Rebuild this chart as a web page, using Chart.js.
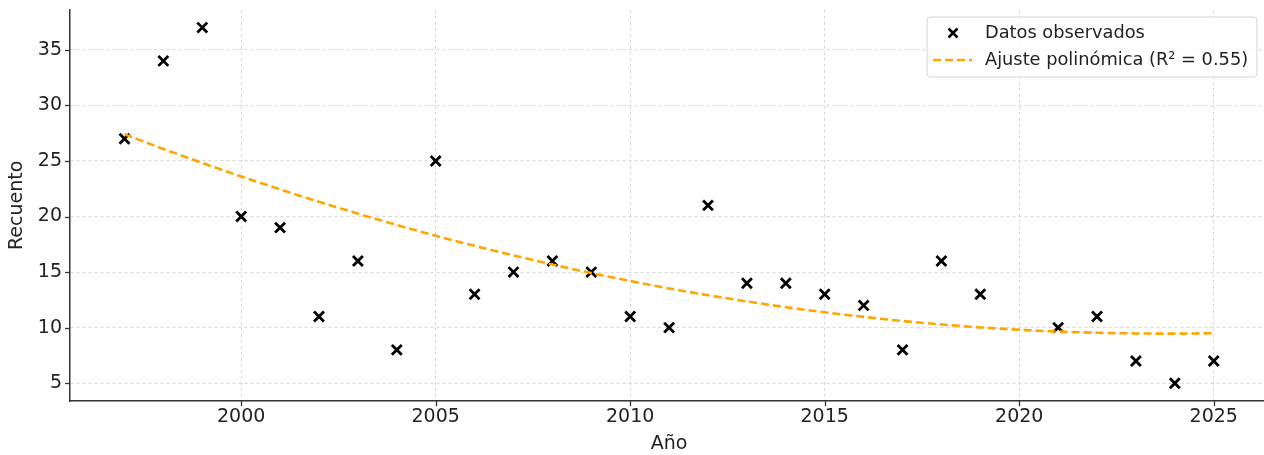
<!DOCTYPE html>
<html><head><meta charset="utf-8">
<script src="https://cdn.jsdelivr.net/npm/chart.js@4.4.1/dist/chart.umd.min.js"></script>
<style>html,body{margin:0;padding:0;overflow:hidden;background:#fff}#wrap{width:1278px;height:455px;position:relative}</style>
</head><body><div id="wrap"><canvas id="c" width="1278" height="455"></canvas></div>
<script>
const years = [1997,1998,1999,2000,2001,2002,2003,2004,2005,2006,2007,2008,2009,2010,2011,2012,2013,2014,2015,2016,2017,2018,2019,2021,2022,2023,2024,2025];
const counts = [27,34,37,20,19,11,16,8,25,13,15,16,15,11,10,21,14,14,13,12,8,16,13,10,11,7,5,7];
const fitYears = [1997,1998,1999,2000,2001,2002,2003,2004,2005,2006,2007,2008,2009,2010,2011,2012,2013,2014,2015,2016,2017,2018,2019,2020,2021,2022,2023,2024,2025];
const fitValues = [27.40,26.08,24.82,23.60,22.44,21.32,20.26,19.24,18.27,17.36,16.50,15.68,14.91,14.20,13.53,12.92,12.36,11.84,11.38,10.97,10.60,10.29,10.02,9.81,9.65,9.54,9.48,9.46,9.50];
const xTicks = [2000,2005,2010,2015,2020,2025];
const yTicks = [5,10,15,20,25,30,35];
const seriesLabels = ['Datos observados','Ajuste polinómica (R\u00B2 = 0.55)'];
const xTitle = 'A\u00F1o';
const yTitle = 'Recuento';

const FONT = 'DejaVu Sans';
const TXT = '#222';
const ORANGE = '#FFA500';

const extras = {
  id: 'extras',
  afterDraw(chart) {
    const ctx = chart.ctx, ca = chart.chartArea;
    const xs = chart.scales.x, ys = chart.scales.y;
    ctx.save();
    ctx.strokeStyle = '#333'; ctx.lineWidth = 1.3; ctx.setLineDash([]);
    xTicks.forEach(v => { const p = Math.round(xs.getPixelForValue(v)) + 0.5; ctx.beginPath(); ctx.moveTo(p, ca.bottom); ctx.lineTo(p, ca.bottom + 5); ctx.stroke(); });
    yTicks.forEach(v => { const p = Math.round(ys.getPixelForValue(v)) + 0.5; ctx.beginPath(); ctx.moveTo(ca.left - 5, p); ctx.lineTo(ca.left, p); ctx.stroke(); });
    // legend
    const bx = 927, by = 17, bw = 330, bh = 60, r = 4;
    ctx.beginPath();
    ctx.moveTo(bx + r, by); ctx.lineTo(bx + bw - r, by); ctx.quadraticCurveTo(bx + bw, by, bx + bw, by + r);
    ctx.lineTo(bx + bw, by + bh - r); ctx.quadraticCurveTo(bx + bw, by + bh, bx + bw - r, by + bh);
    ctx.lineTo(bx + r, by + bh); ctx.quadraticCurveTo(bx, by + bh, bx, by + bh - r);
    ctx.lineTo(bx, by + r); ctx.quadraticCurveTo(bx, by, bx + r, by);
    ctx.fillStyle = 'rgba(255,255,255,0.85)'; ctx.fill();
    ctx.strokeStyle = '#d5d5d5'; ctx.lineWidth = 1; ctx.stroke();
    ctx.strokeStyle = '#000'; ctx.lineWidth = 2.6;
    const mx = 953, my = 33, m = 4.5;
    ctx.beginPath(); ctx.moveTo(mx - m, my - m); ctx.lineTo(mx + m, my + m); ctx.moveTo(mx + m, my - m); ctx.lineTo(mx - m, my + m); ctx.stroke();
    ctx.strokeStyle = ORANGE; ctx.lineWidth = 2.6; ctx.setLineDash([8, 4]);
    ctx.beginPath(); ctx.moveTo(933, 60); ctx.lineTo(972, 60); ctx.stroke();
    ctx.setLineDash([]);
    ctx.fillStyle = TXT; ctx.font = '17.8px "' + FONT + '"'; ctx.textBaseline = 'middle'; ctx.textAlign = 'left';
    ctx.fillText(seriesLabels[0], 985, 33);
    ctx.fillText(seriesLabels[1], 985, 60);
    ctx.restore();
  }
};

function zeroPad(s) { s.paddingTop = 0; s.paddingBottom = 0; s.paddingLeft = 0; s.paddingRight = 0; }

new Chart(document.getElementById('c'), {
  type: 'scatter',
  data: {
    datasets: [
      { label: seriesLabels[0], data: years.map((y, i) => ({x: y, y: counts[i]})),
        pointStyle: 'crossRot', pointRadius: 7, pointBorderWidth: 2.8, borderColor: '#000', backgroundColor: '#000', order: 1 },
      { label: seriesLabels[1], data: fitYears.map((y, i) => ({x: y, y: fitValues[i]})),
        showLine: true, pointRadius: 0, borderColor: ORANGE, borderWidth: 2.6, borderDash: [8, 4], tension: 0.4, cubicInterpolationMode: 'monotone', order: 0 }
    ]
  },
  options: {
    responsive: false, animation: false, devicePixelRatio: 1,
    layout: { padding: { top: 8, left: 0, right: 0, bottom: 0 } },
    plugins: { legend: { display: false }, tooltip: { enabled: false } },
    scales: {
      x: { type: 'linear', min: 1995.6, max: 2026.4,
        afterBuildTicks: s => { s.ticks = xTicks.map(v => ({value: v})); },
        afterFit: s => { s.height = 54; zeroPad(s); },
        ticks: { callback: v => String(v), font: { family: FONT, size: 19 }, color: TXT, padding: 5, maxRotation: 0, autoSkip: false },
        grid: { color: '#d6d6d6', lineWidth: 1, drawTicks: false },
        border: { display: true, color: '#333', width: 1.5, dash: [3, 3] },
        title: { display: true, text: xTitle, font: { family: FONT, size: 19 }, color: TXT, padding: { top: 0, bottom: 0 } } },
      y: { type: 'linear', min: 3.4, max: 38.6,
        afterBuildTicks: s => { s.ticks = yTicks.map(v => ({value: v})); },
        afterFit: s => { s.width = 70; zeroPad(s); },
        ticks: { font: { family: FONT, size: 19 }, color: TXT, padding: 8 },
        grid: { color: '#d6d6d6', lineWidth: 1, drawTicks: false },
        border: { display: true, color: '#333', width: 1.5, dash: [3, 3] },
        title: { display: true, text: yTitle, font: { family: FONT, size: 19 }, color: TXT, padding: { top: 6, bottom: 0 } } }
    }
  },
  plugins: [extras]
});
</script></body></html>
